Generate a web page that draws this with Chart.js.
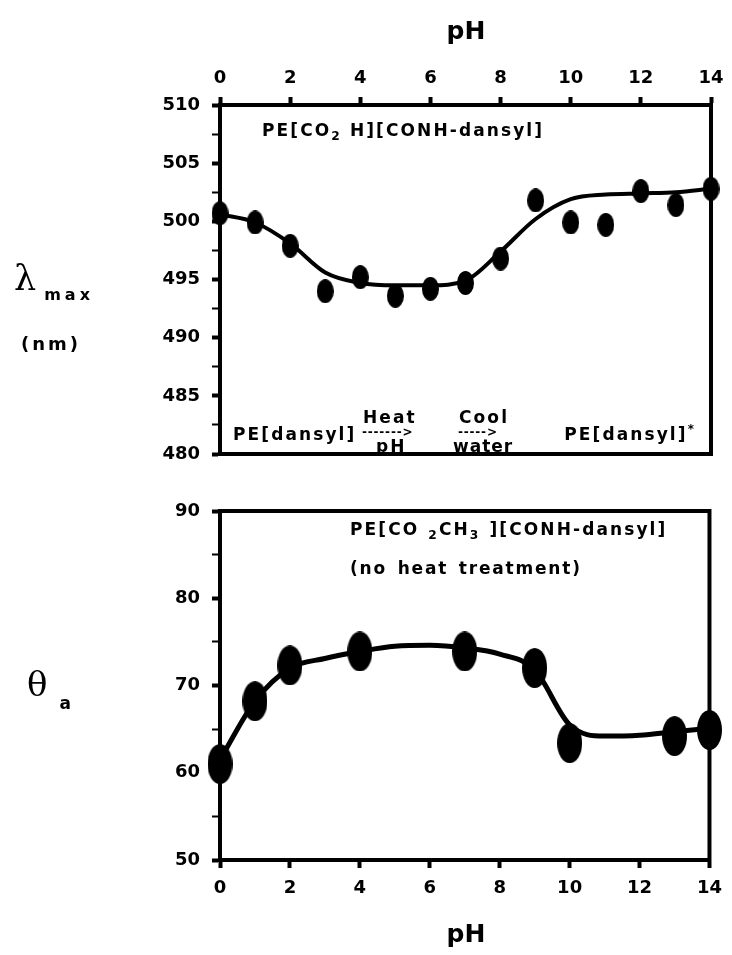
<!DOCTYPE html>
<html>
<head>
<meta charset="utf-8">
<script src="https://cdn.jsdelivr.net/npm/chart.js@4.4.1/dist/chart.umd.min.js"></script>
<style>
  body { margin: 0; background: #fff; width: 732px; height: 955px; position: relative; overflow: hidden;
         font-family: 'DejaVu Sans', sans-serif; font-weight: bold; color: #000; }
  .box { position: absolute; left: 0; width: 732px; }
  .t { position: absolute; white-space: nowrap; line-height: 1; transform: translateY(-50%); z-index: 2; }
  .c { transform: translate(-50%, -50%); }
  .r { transform: translate(-100%, -50%); }
  .sub { font-size: 0.72em; position: relative; top: 0.35em; }
  .sup { font-size: 0.7em; position: relative; top: -0.6em; }
  .note { font-size: 17px; letter-spacing: 2.1px; }
  .arrow { font-size: 12px; letter-spacing: 0.8px; }
  .greek { font-family: 'DejaVu Serif', serif; font-weight: normal; }
</style>
</head>
<body>
<div class="box" style="top:0;height:480px"><canvas id="topChart" width="732" height="480"></canvas></div>
<div class="box" style="top:480px;height:475px"><canvas id="bottomChart" width="732" height="475"></canvas></div>

<!-- titres des axes -->
<div class="t c" style="left:466px;top:30px;font-size:25px">pH</div>
<div class="t c" style="left:466px;top:933px;font-size:25px">pH</div>
<div class="t" style="left:14px;top:278px"><span class="greek" style="font-size:35px">λ</span><span style="font-size:16px;letter-spacing:4px;position:relative;top:10px;margin-left:8px">max</span></div>
<div class="t" style="left:21px;top:344px;font-size:18px;letter-spacing:3px">(nm)</div>
<div class="t" style="left:27px;top:684px"><span class="greek" style="font-size:34px">θ</span><span style="font-size:17px;position:relative;top:13px;margin-left:12px">a</span></div>

<!-- annotations -->
<div class="t note" style="left:262px;top:130px">PE[CO<span class="sub">2</span> H][CONH-dansyl]</div>
<div class="t note" style="left:233px;top:434px">PE[dansyl]</div>
<div class="t note" style="left:363px;top:417px">Heat</div>
<div class="t arrow" style="left:362px;top:432px">-------&gt;</div>
<div class="t note" style="left:376px;top:446px">pH</div>
<div class="t note" style="left:459px;top:417px">Cool</div>
<div class="t arrow" style="left:458px;top:432px">-----&gt;</div>
<div class="t note" style="left:453px;top:446px;letter-spacing:1px">water</div>
<div class="t note r" style="left:696px;top:434px">PE[dansyl]<span class="sup">*</span></div>
<div class="t note" style="left:350px;top:529px;word-spacing:1px">PE[CO <span class="sub">2</span>CH<span class="sub">3</span> ][CONH-dansyl]</div>
<div class="t note" style="left:350px;top:568px;letter-spacing:1.8px;word-spacing:3px">(no heat treatment)</div>

<script>
// valeurs
const phAll = [0, 1, 2, 3, 4, 5, 6, 7, 8, 9, 10, 11, 12, 13, 14];
const lambdaMax = [500.7, 499.9, 497.9, 494.0, 495.2, 493.6, 494.2, 494.7, 496.8, 501.8, 499.9, 499.7, 502.6, 501.4, 502.8];
const lambdaFit = [500.6, 499.9, 498.1, 495.6, 494.7, 494.5, 494.5, 494.9, 497.4, 500.2, 501.9, 502.3, 502.4, 502.5, 502.8];
const thetaPh = [0, 1, 2, 4, 7, 9, 10, 13, 14];
const thetaA = [61.0, 68.2, 72.3, 73.9, 73.9, 72.0, 63.4, 64.2, 64.9];
const thetaFit = [61.5, 68.2, 72.0, 73.1, 73.9, 74.5, 74.6, 74.3, 73.6, 71.8, 65.5, 64.2, 64.3, 64.7, 65.1];
const phTicks = [0, 2, 4, 6, 8, 10, 12, 14];
const lambdaTicks = [480, 485, 490, 495, 500, 505, 510];
const lambdaMinor = [482.5, 487.5, 492.5, 497.5, 502.5, 507.5];
const thetaTicks = [50, 60, 70, 80, 90];
const thetaMinor = [55, 65, 75, 85];

const tickFont = { family: 'DejaVu Sans', weight: 'bold', size: 18 };

function dotImage(w, h) {
    const c = document.createElement('canvas');
    c.width = w; c.height = h;
    const g = c.getContext('2d');
    g.fillStyle = '#000';
    g.beginPath();
    g.ellipse(w / 2, h / 2, w / 2, h / 2, 0, 0, Math.PI * 2);
    g.fill();
    return c;
}

// cadre complet autour de la zone de tracé
const framePlugin = {
    id: 'frame',
    afterDatasetsDraw(chart) {
        const a = chart.chartArea, ctx = chart.ctx;
        ctx.save();
        ctx.lineWidth = 4;
        ctx.strokeStyle = '#000';
        ctx.strokeRect(a.left, a.top, a.right - a.left, a.bottom - a.top);
        ctx.restore();
    }
};

function axis(ticks, minor, extra) {
    const all = ticks.concat(minor).sort((a, b) => a - b);
    return Object.assign({
        type: 'linear',
        min: ticks[0],
        max: ticks[ticks.length - 1],
        afterBuildTicks: s => { s.ticks = all.map(v => ({ value: v })); },
        grid: {
            drawOnChartArea: false, drawTicks: true, tickLength: 8, color: '#000',
            tickWidth: ctx => (ctx.tick && minor.includes(ctx.tick.value)) ? 2 : 4
        },
        border: { display: true, width: 4, color: '#000' },
        ticks: {
            font: tickFont, color: '#000', maxRotation: 0, autoSkip: false, padding: 12,
            callback: v => ticks.includes(v) ? String(v) : ''
        }
    }, extra);
}

function makeChart(id, xs, ys, fitYs, dot, lineWidth, xOpts, yTicks, yMinor, padding) {
    return new Chart(document.getElementById(id), {
        type: 'scatter',
        data: {
            datasets: [{
                data: phAll.map((x, i) => ({ x: x, y: fitYs[i] })),
                showLine: true,
                borderColor: '#000',
                borderWidth: lineWidth,
                pointRadius: 0,
                cubicInterpolationMode: 'monotone',
                clip: false
            }, {
                data: xs.map((x, i) => ({ x: x, y: ys[i] })),
                pointStyle: dot,
                pointRadius: 10,
                clip: false
            }]
        },
        options: {
            responsive: false,
            animation: false,
            devicePixelRatio: 1,
            layout: { padding: padding },
            plugins: { legend: { display: false }, tooltip: { enabled: false } },
            scales: {
                x: xOpts,
                y: axis(yTicks, yMinor, { afterFit: s => { s.width = 220; } })
            }
        },
        plugins: [framePlugin]
    });
}

const xTickStyle = pad => ({ font: tickFont, color: '#000', maxRotation: 0, autoSkip: false, padding: pad });

makeChart('topChart', phAll, lambdaMax, lambdaFit, dotImage(17, 24), 4,
    axis(phTicks, [], { position: 'top', afterFit: s => { s.height = 105; }, ticks: xTickStyle(8) }),
    lambdaTicks, lambdaMinor, { left: 0, right: 21, top: 0, bottom: 26 });

makeChart('bottomChart', thetaPh, thetaA, thetaFit, dotImage(25, 40), 5,
    axis(phTicks, [], { position: 'bottom', afterFit: s => { s.height = 95; }, ticks: xTickStyle(10) }),
    thetaTicks, thetaMinor, { left: 0, right: 21, top: 31, bottom: 0 });
</script>
</body>
</html>
